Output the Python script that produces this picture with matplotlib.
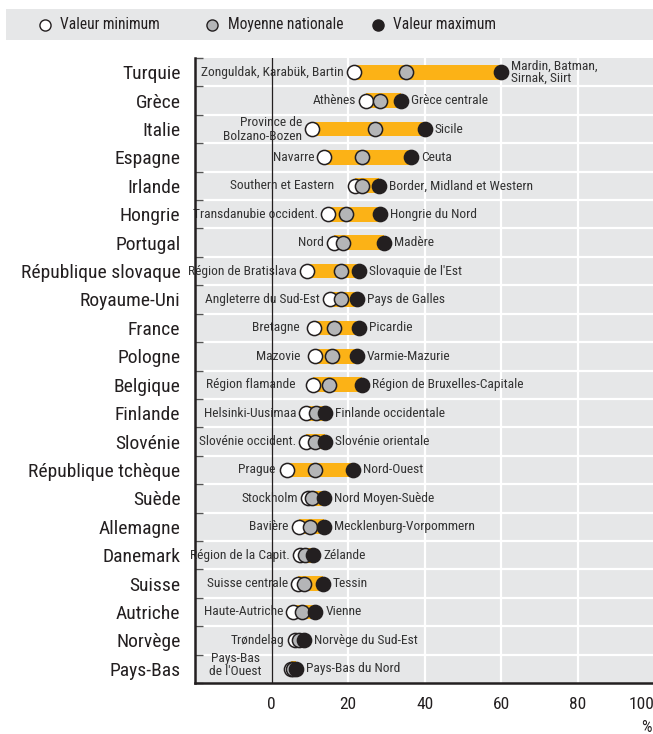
import matplotlib
matplotlib.use("Agg")
import matplotlib.pyplot as plt
from matplotlib import font_manager
from matplotlib.lines import Line2D
from matplotlib.patches import Rectangle

# ---------------- data ----------------
countries = ['Turquie', 'Grèce', 'Italie', 'Espagne', 'Irlande', 'Hongrie', 'Portugal',
             'République slovaque', 'Royaume-Uni', 'France', 'Pologne', 'Belgique',
             'Finlande', 'Slovénie', 'République tchèque', 'Suède', 'Allemagne',
             'Danemark', 'Suisse', 'Autriche', 'Norvège', 'Pays-Bas']
min_vals = [21.4, 24.6, 10.6, 13.7, 21.9, 14.8, 16.2, 9.3, 15.2, 11.1, 11.3, 10.8,
            9.1, 8.9, 4.0, 9.5, 7.1, 7.3, 6.9, 5.6, 6.0, 5.1]
mean_vals = [35.1, 28.4, 27.0, 23.7, 23.7, 19.5, 18.7, 18.2, 18.2, 16.2, 15.9, 14.9,
             11.7, 11.3, 11.3, 10.6, 10.1, 8.6, 8.4, 8.0, 7.1, 5.6]
max_vals = [60.0, 33.7, 40.0, 36.3, 28.0, 28.4, 29.3, 22.8, 22.4, 22.9, 22.2, 23.7,
            13.9, 13.9, 21.3, 13.6, 13.6, 10.8, 13.3, 11.4, 8.4, 6.4]
min_regions = ['Zonguldak, Karabük, Bartin', 'Athènes', 'Province de\nBolzano-Bozen',
               'Navarre', 'Southern et Eastern', 'Transdanubie occident.', 'Nord',
               'Région de Bratislava', 'Angleterre du Sud-Est', 'Bretagne', 'Mazovie',
               'Région flamande', 'Helsinki-Uusimaa', 'Slovénie occident.', 'Prague',
               'Stockholm', 'Bavière', 'Région de la Capit.', 'Suisse centrale',
               'Haute-Autriche', 'Trøndelag', "Pays-Bas\nde l'Ouest"]
max_regions = ['Mardin, Batman,\nSirnak, Siirt', 'Grèce centrale', 'Sicile', 'Ceuta',
               'Border, Midland et Western', 'Hongrie du Nord', 'Madère',
               "Slovaquie de l'Est", 'Pays de Galles', 'Picardie', 'Varmie-Mazurie',
               'Région de Bruxelles-Capitale', 'Finlande occidentale',
               'Slovénie orientale', 'Nord-Ouest', 'Nord Moyen-Suède',
               'Mecklenburg-Vorpommern', 'Zélande', 'Tessin', 'Vienne',
               'Norvège du Sud-Est', 'Pays-Bas du Nord']
x_ticks = [0, 20, 40, 60, 80, 100]
legend_labels = ['Valeur minimum', 'Moyenne nationale', 'Valeur maximum']

# ---------------- style ----------------
available = {f.name for f in font_manager.fontManager.ttflist}
fam = 'DejaVu Sans'
for cand in ['Liberation Sans Narrow', 'Roboto Condensed', 'Open Sans Condensed',
             'Noto Sans Condensed']:
    if cand in available:
        fam = cand
        break
plt.rcParams['font.family'] = [fam, 'DejaVu Sans']

BG = '#e6e7e8'
ORANGE = '#fcb216'
DARK = '#231f20'
TXT = '#333333'
GRAY = '#b4b5b7'

W, H = 653, 734
fig = plt.figure(figsize=(W / 100, H / 100), dpi=100)

def fx(px):
    return px / W

def fy(py):
    return 1 - py / H

ax = fig.add_axes([fx(195), fy(683), (654.5 - 195) / W, (683 - 58) / H])
ax.set_facecolor(BG)
n = len(countries)
ys = list(range(n))
ax.set_xlim(-20, 100)
ax.set_ylim(n - 0.5, -0.5)

# grid
for xv in x_ticks[1:]:
    ax.axvline(xv, color='white', lw=1.6, zorder=1)
for b in range(1, n):
    ax.axhline(b - 0.5, color='white', lw=1.6, zorder=1)
ax.axvline(0, color=DARK, lw=0.9, zorder=2)

# bars
lefts = min_vals
widths = [mx - mn for mn, mx in zip(min_vals, max_vals)]
ax.barh(ys, widths, left=lefts, height=0.52, color=ORANGE, zorder=3)

ms = 10.2
mew = 1.1
ax.plot(min_vals, ys, 'o', ms=ms, mfc='white', mec=DARK, mew=mew, ls='none', zorder=4)
ax.plot(mean_vals, ys, 'o', ms=ms, mfc=GRAY, mec=DARK, mew=mew, ls='none', zorder=5)
ax.plot(max_vals, ys, 'o', ms=ms, mfc=DARK, mec=DARK, mew=mew, ls='none', zorder=6)

# region labels
min_off_px = {4: 21, 11: 17, 9: 14, 10: 14, 14: 12}
for i, (mn, mx, lab_l, lab_r) in enumerate(zip(min_vals, max_vals, min_regions, max_regions)):
    off = min_off_px.get(i, 10) * 0.72
    if i == n - 1:
        ax.annotate(lab_l, (mn, i), xytext=(-40, 3), textcoords='offset points',
                    ha='center', va='center', fontsize=9.7, color=TXT,
                    linespacing=1.0, multialignment='center', zorder=3.5,
                    annotation_clip=False)
    else:
        ax.annotate(lab_l, (mn, i), xytext=(-off, 0), textcoords='offset points',
                    ha='right', va='center', fontsize=9.7, color=TXT,
                    linespacing=1.1 if '\n' in lab_l else 1.2,
                    multialignment='right', zorder=1.5, annotation_clip=False)
    ax.annotate(lab_r, (mx, i), xytext=(7.3, 0), textcoords='offset points',
                ha='left', va='center', fontsize=9.7, color=TXT,
                linespacing=0.9, zorder=3.5, annotation_clip=False)

# axes cosmetics
for s in ['top', 'right']:
    ax.spines[s].set_visible(False)
for s in ['left', 'bottom']:
    ax.spines[s].set_linewidth(1.8)
    ax.spines[s].set_color(DARK)
    ax.spines[s].set_zorder(7)

ax.set_yticks(ys)
ax.set_yticklabels(countries, fontsize=14, color=DARK)
ax.set_yticks([b - 0.5 for b in range(n + 1)], minor=True)
ax.tick_params(axis='y', which='major', length=0, pad=10.5)
ax.tick_params(axis='y', which='minor', direction='in', length=6, width=1, color='#555555')
ax.set_xticks(x_ticks)
ax.set_xticklabels([str(v) for v in x_ticks], fontsize=12.5, color=DARK)
ax.tick_params(axis='x', length=0, pad=10)
ax.get_xticklabels()[-1].set_ha('right')
ax.grid(False)

fig.text(fx(652), fy(727), '%', ha='right', va='center', fontsize=12, color=DARK)

# legend band
fig.patches.append(Rectangle((fx(6), fy(40)), fx(653) - fx(6), (40 - 9) / H,
                             transform=fig.transFigure, facecolor=BG, edgecolor='none',
                             zorder=0))
leg_mfc = ['white', GRAY, DARK]
leg_mx = [45, 212, 378]
leg_tx = [60, 228, 393]
for lab, mfc, mxp, txp in zip(legend_labels, leg_mfc, leg_mx, leg_tx):
    fig.add_artist(Line2D([fx(mxp)], [fy(24.5)], marker='o', ms=8, mfc=mfc, mec=DARK,
                          mew=1.0, ls='none', transform=fig.transFigure))
    fig.text(fx(txp), fy(24.5), lab, ha='left', va='center', fontsize=11.2, color=DARK)

fig.savefig('out.png', dpi=100)
